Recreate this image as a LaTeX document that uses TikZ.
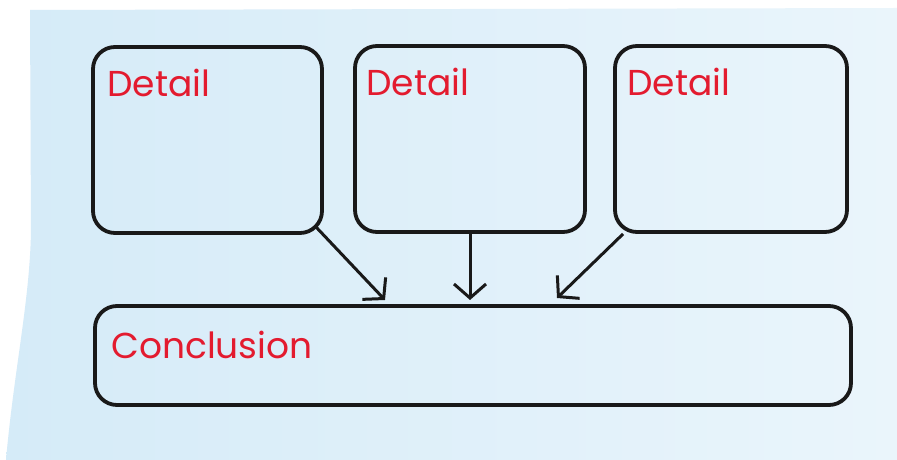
\documentclass[tikz,border=0pt]{standalone}
\usepackage{fontspec}
\setmainfont{Poppins}
\usetikzlibrary{arrows.meta}
\definecolor{labelred}{HTML}{E31B2F}
\definecolor{paperL}{HTML}{D5EBF8}
\definecolor{paperR}{HTML}{EAF5FB}
\tikzset{
  card/.style={draw=black!90, line width=3.8pt, rounded corners=22pt, inner sep=0pt},
  lbl/.style={text=labelred, font=\fontsize{36}{40}\selectfont, anchor=base west, inner sep=0pt},
  link/.style={draw=black!90, line width=3pt, -{Straight Barb[length=14pt,width=32pt]}}
}
\begin{document}
\begin{tikzpicture}[x=1pt,y=1pt]
\useasboundingbox (0,0) rectangle (897,460);
\fill[white] (0,0) rectangle (897,460);
% paper sheet with a slightly curled left edge
\shade[left color=paperL, right color=paperR]
  (30,450) -- (897,452) -- (897,0) -- (6,0)
  .. controls (14,90) and (30,160) .. (31,230) -- cycle;
% detail cards
\node[card, minimum width=229pt, minimum height=186pt] (d1) at (207.5,320) {};
\node[card, minimum width=230pt, minimum height=186pt] (d2) at (470,321) {};
\node[card, minimum width=232pt, minimum height=186pt] (d3) at (731,321) {};
% conclusion card
\node[card, minimum width=756pt, minimum height=99pt] (c) at (473,104.5) {};
% labels
\node[lbl] at ([shift={(16,-51)}]d1.north west) {Detail};
\node[lbl] at ([shift={(13,-51)}]d2.north west) {Detail};
\node[lbl] at ([shift={(14,-51)}]d3.north west) {Detail};
\node[lbl] at ([shift={(18,-54)}]c.north west) {Conclusion};
% connectors
\coordinate (t1) at (385,160);
\coordinate (t2) at (470,160);
\coordinate (t3) at (557,162);
\draw[link] ([shift={(-8,8)}]d1.south east) -- (t1);
\draw[link] (d2.south) -- (t2);
\draw[link] ([shift={(10,0)}]d3.south west) -- (t3);
\end{tikzpicture}
\end{document}
